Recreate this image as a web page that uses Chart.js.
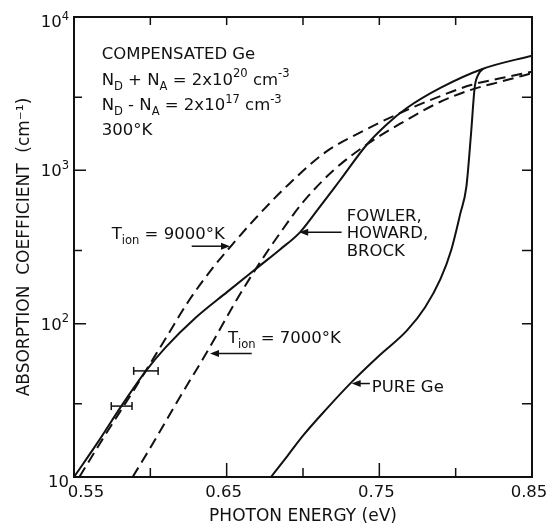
<!DOCTYPE html>
<html>
<head>
<meta charset="utf-8">
<script src="https://cdn.jsdelivr.net/npm/chart.js@4.4.0/dist/chart.umd.min.js"></script>
<style>
  html, body { margin: 0; padding: 0; background: #fff; }
</style>
</head>
<body>
<canvas id="absorptionChart" width="552" height="527"></canvas>
<script>
// photon energy (eV) / absorption coefficient (cm-1)
const fhbEnergy = [0.550, 0.565, 0.581, 0.597, 0.610, 0.630, 0.650, 0.672, 0.685, 0.698, 0.710, 0.724, 0.742, 0.755, 0.768, 0.790, 0.818, 0.850]
const fhbAlpha = [10, 16.5, 29, 49, 70, 110, 160, 240, 305, 394, 560, 855, 1480, 2000, 2550, 3450, 4600, 5600]

const t9000Energy = [0.5535, 0.570, 0.590, 0.610, 0.625, 0.640, 0.655, 0.670, 0.690, 0.715, 0.740, 0.765, 0.790, 0.810, 0.830, 0.850]
const t9000Alpha = [10, 18.5, 38, 80, 140, 225, 340, 500, 800, 1320, 1820, 2400, 3050, 3600, 4000, 4400]

const t7000Energy = [0.5884, 0.600, 0.620, 0.637, 0.656, 0.670, 0.685, 0.700, 0.720, 0.742, 0.765, 0.790, 0.810, 0.830, 0.850]
const t7000Alpha = [10, 15.5, 34, 65, 140, 235, 390, 620, 1000, 1480, 2050, 2800, 3350, 3800, 4300]

const pureEnergy = [0.679, 0.690, 0.700, 0.715, 0.732, 0.750, 0.768, 0.780, 0.790, 0.797, 0.803, 0.807, 0.810, 0.8125, 0.815, 0.818]
const pureAlpha = [10, 13.8, 18.6, 27.5, 41.7, 62, 90, 128, 195, 300, 520, 780, 1700, 3500, 4250, 4600]

// the two measured points with their energy error bars
const errEnergy = [0.5812, 0.5971]
const errAlpha = [29, 49.2]
const errHalf = [0.0068, 0.008]

// ticks
const xTickValues = [0.55, 0.60, 0.65, 0.70, 0.75, 0.80, 0.85]
const xLabelValues = [0.55, 0.65, 0.75, 0.85]
const yTickValues = [10, 30, 100, 300, 1000, 3000, 10000]
const yLabelValues = [10, 100, 1000, 10000]

const INK = '#111'
const FONT = '"DejaVu Sans", sans-serif'

const pts = (xs, ys) => xs.map((x, i) => ({ x: x, y: ys[i] }))

function curve(label, xs, ys, dash) {
    return {
        label: label,
        data: pts(xs, ys),
        borderColor: INK,
        borderWidth: 2,
        borderDash: dash || [],
        pointRadius: 0,
        cubicInterpolationMode: 'monotone',
        fill: false
    }
}

const errorBars = errEnergy.map((e, i) => ({
    label: 'error ' + i,
    data: [{ x: e - errHalf[i], y: errAlpha[i] }, { x: e + errHalf[i], y: errAlpha[i] }],
    borderColor: INK,
    borderWidth: 1.5,
    pointStyle: 'line',
    rotation: 90,
    pointRadius: 4,
    pointBorderWidth: 1.5,
    pointBorderColor: INK
}))

// text on the plot, placed in data coordinates
const notes = [
    { e: 0.5681, a: 5320, text: 'COMPENSATED Ge' },
    { e: 0.5681, a: 3606, text: 'N_{D} + N_{A} = 2x10^{20} cm^{-3}' },
    { e: 0.5681, a: 2477, text: 'N_{D} - N_{A} = 2x10^{17} cm^{-3}' },
    { e: 0.5681, a: 1706, text: '300°K' },
    { e: 0.5747, a: 359, text: 'T_{ion} = 9000°K' },
    { e: 0.7286, a: 470, text: 'FOWLER,' },
    { e: 0.7286, a: 364, text: 'HOWARD,' },
    { e: 0.7286, a: 278, text: 'BROCK' },
    { e: 0.6508, a: 74.5, text: 'T_{ion} = 7000°K' },
    { e: 0.7450, a: 35.6, text: 'PURE Ge' }
]
const arrows = [
    { from: [0.6271, 320], to: [0.6522, 320] },
    { from: [0.7253, 394], to: [0.6975, 394] },
    { from: [0.6664, 63.8], to: [0.6391, 63.8] },
    { from: [0.7438, 40.7], to: [0.7319, 40.7] }
]

// _{..} subscript, ^{..} superscript
function richParts(text, size) {
    const re = /([_^])\{([^}]*)\}|([^_^]+)/g
    let m, out = []
    while ((m = re.exec(text))) {
        if (m[1]) out.push({ s: m[2], fs: size * 0.7, dy: m[1] === '_' ? size * 0.3 : -size * 0.45 })
        else out.push({ s: m[3], fs: size, dy: 0 })
    }
    return out
}

function richWidth(ctx, text, size) {
    return richParts(text, size).reduce((w, p) => {
        ctx.font = p.fs + 'px ' + FONT
        return w + ctx.measureText(p.s).width
    }, 0)
}

function drawRich(ctx, x, y, text, size) {
    let cx = x
    richParts(text, size).forEach(p => {
        ctx.font = p.fs + 'px ' + FONT
        ctx.fillText(p.s, cx, y + p.dy)
        cx += ctx.measureText(p.s).width
    })
}

function drawArrow(ctx, x0, y0, x1, y1) {
    const ang = Math.atan2(y1 - y0, x1 - x0)
    const len = 9, half = 3.5
    ctx.beginPath()
    ctx.moveTo(x0, y0)
    ctx.lineTo(x1 - Math.cos(ang) * len * 0.8, y1 - Math.sin(ang) * len * 0.8)
    ctx.stroke()
    ctx.beginPath()
    ctx.moveTo(x1, y1)
    ctx.lineTo(x1 - Math.cos(ang) * len - Math.sin(ang) * half, y1 - Math.sin(ang) * len + Math.cos(ang) * half)
    ctx.lineTo(x1 - Math.cos(ang) * len + Math.sin(ang) * half, y1 - Math.sin(ang) * len - Math.cos(ang) * half)
    ctx.closePath()
    ctx.fill()
}

const framePlugin = {
    id: 'frame',
    afterDraw(chart) {
        const { ctx, chartArea: ca, scales: { x, y } } = chart
        ctx.save()
        ctx.strokeStyle = INK
        ctx.fillStyle = INK

        ctx.lineWidth = 2
        ctx.strokeRect(ca.left, ca.top, ca.right - ca.left, ca.bottom - ca.top)

        // inward ticks on all four sides
        ctx.lineWidth = 1.5
        ctx.beginPath()
        xTickValues.forEach(v => {
            const px = x.getPixelForValue(v)
            const major = xLabelValues.includes(v)
            ctx.moveTo(px, ca.bottom); ctx.lineTo(px, ca.bottom - (major ? 14 : 9))
            ctx.moveTo(px, ca.top); ctx.lineTo(px, ca.top + 8)
        })
        yTickValues.forEach(v => {
            const py = y.getPixelForValue(v)
            const major = yLabelValues.includes(v)
            ctx.moveTo(ca.left, py); ctx.lineTo(ca.left + (major ? 12 : 8), py)
            ctx.moveTo(ca.right, py); ctx.lineTo(ca.right - 10, py)
        })
        ctx.stroke()

        // tick labels
        ctx.textBaseline = 'alphabetic'
        ctx.font = '16.5px ' + FONT
        ctx.textAlign = 'center'
        xLabelValues.forEach((v, i) => {
            const dx = i === 0 ? 12 : -3
            ctx.fillText(v.toFixed(2), x.getPixelForValue(v) + dx, ca.bottom + 20)
        })
        ctx.textAlign = 'left'
        yLabelValues.forEach((v, i) => {
            const exp = Math.round(Math.log10(v))
            const txt = exp === 1 ? '10' : '10^{' + exp + '}'
            const w = richWidth(ctx, txt, 16.5)
            let py = y.getPixelForValue(v) + 6
            if (i === 0 || i === yLabelValues.length - 1) py += 4
            drawRich(ctx, ca.left - 5 - w, py, txt, 16.5)
        })

        // annotations
        notes.forEach(n => {
            drawRich(ctx, x.getPixelForValue(n.e), y.getPixelForValue(n.a), n.text, 16.5)
        })
        ctx.lineWidth = 1.5
        arrows.forEach(a => {
            drawArrow(ctx,
                x.getPixelForValue(a.from[0]), y.getPixelForValue(a.from[1]),
                x.getPixelForValue(a.to[0]), y.getPixelForValue(a.to[1]))
        })
        ctx.restore()
    }
}

new Chart('absorptionChart', {
    type: 'line',
    data: {
        datasets: [
            curve('Fowler, Howard, Brock', fhbEnergy, fhbAlpha),
            curve('Tion = 9000 K', t9000Energy, t9000Alpha, [11, 6]),
            curve('Tion = 7000 K', t7000Energy, t7000Alpha, [11, 6]),
            curve('Pure Ge', pureEnergy, pureAlpha),
            ...errorBars
        ]
    },
    options: {
        responsive: false,
        devicePixelRatio: 1,
        animation: false,
        layout: { padding: { top: 17, right: 20, left: 0, bottom: 0 } },
        plugins: { legend: { display: false }, tooltip: { enabled: false } },
        scales: {
            x: {
                type: 'linear',
                min: 0.55,
                max: 0.85,
                afterFit: s => { s.height = 50 },
                grid: { display: false },
                border: { display: false },
                ticks: { display: false },
                title: {
                    display: true,
                    text: 'PHOTON ENERGY (eV)',
                    color: INK,
                    font: { family: FONT, size: 17 },
                    padding: { top: 0, bottom: 0 }
                }
            },
            y: {
                type: 'logarithmic',
                min: 10,
                max: 10000,
                afterFit: s => { s.width = 74 },
                grid: { display: false },
                border: { display: false },
                ticks: { display: false },
                title: {
                    display: true,
                    text: 'ABSORPTION  COEFFICIENT  (cm⁻¹)',
                    color: INK,
                    font: { family: FONT, size: 17 },
                    padding: { top: 14, bottom: 0 }
                }
            }
        }
    },
    plugins: [framePlugin]
})
</script>
</body>
</html>
